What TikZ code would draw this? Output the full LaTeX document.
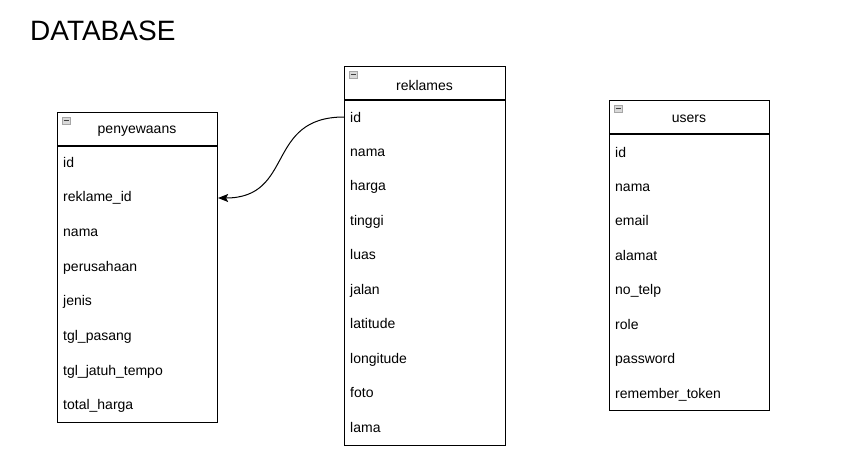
\documentclass[tikz,border=0pt]{standalone}
\usepackage{fontspec}
\setmainfont{Liberation Sans}
\usetikzlibrary{arrows.meta}
\tikzset{
  tblbox/.style={draw=black, line width=1.1pt, inner sep=0pt, anchor=north west},
  tblline/.style={draw=black, line width=1.1pt},
  tbltitle/.style={inner sep=0pt, font=\fontsize{14}{16}\selectfont},
  tblrow/.style={anchor=west, inner sep=0pt, text height=10pt, text depth=3pt,
    font=\fontsize{14}{16}\selectfont},
  tblicon/.style={draw=gray!70, fill=gray!30, line width=0.7pt},
  tblminus/.style={draw=black!75, line width=1.3pt},
}

\begin{document}
\begin{tikzpicture}[x=1pt,y=-1pt]
  \useasboundingbox (0,0) rectangle (850,469);
  \node[anchor=west, inner sep=0pt, font=\fontsize{28}{30}\selectfont] (title) at (30,31) {DATABASE};

  % penyewaans
  \node[tblbox, minimum width=160pt, minimum height=310pt] (penyewaans) at (57,112) {};
  \draw[tblline] (57,146) -- (217,146);
  \draw[tblicon] (62,117) rectangle (70,124);
  \draw[tblminus] (63.5,120.5) -- (68.5,120.5);
  \node[tbltitle] (pen-title) at (137,131) {penyewaans};
  \foreach \n/\t [count=\i from 0] in {id/id, reklame/reklame\_id, nama/nama,
      perusahaan/perusahaan, jenis/jenis, pasang/tgl\_pasang,
      tempo/tgl\_jatuh\_tempo, total/total\_harga}
    \node[tblrow] (pen-\n) at (63,{163.5+34.7*\i}) {\t};

  % reklames
  \node[tblbox, minimum width=161pt, minimum height=379pt] (reklames) at (344,66) {};
  \draw[tblline] (344,100) -- (505,100);
  \draw[tblicon] (349,71) rectangle (357,78);
  \draw[tblminus] (350.5,74.5) -- (355.5,74.5);
  \node[tbltitle] (rek-title) at (424.5,85) {reklames};
  \foreach \n/\t [count=\i from 0] in {id/id, nama/nama, harga/harga, tinggi/tinggi,
      luas/luas, jalan/jalan, latitude/latitude, longitude/longitude, foto/foto, lama/lama}
    \node[tblrow] (rek-\n) at (350,{118.5+34.45*\i}) {\t};

  % users
  \node[tblbox, minimum width=160pt, minimum height=310pt] (users) at (609,100) {};
  \draw[tblline] (609,134) -- (769,134);
  \draw[tblicon] (614,105) rectangle (622,112);
  \draw[tblminus] (615.5,108.5) -- (620.5,108.5);
  \node[tbltitle] (usr-title) at (689,119) {users};
  \foreach \n/\t [count=\i from 0] in {id/id, nama/nama, email/email, alamat/alamat,
      telp/no\_telp, role/role, password/password, token/remember\_token}
    \node[tblrow] (usr-\n) at (615,{153.5+34.43*\i}) {\t};

  % relasi
  \draw[line width=1pt, -{Stealth[length=10pt, width=8pt, inset=2pt]}]
    (reklames.west |- 0,117) .. controls (265,117) and (295,198) .. (penyewaans.east |- 0,198);
\end{tikzpicture}
\end{document}
